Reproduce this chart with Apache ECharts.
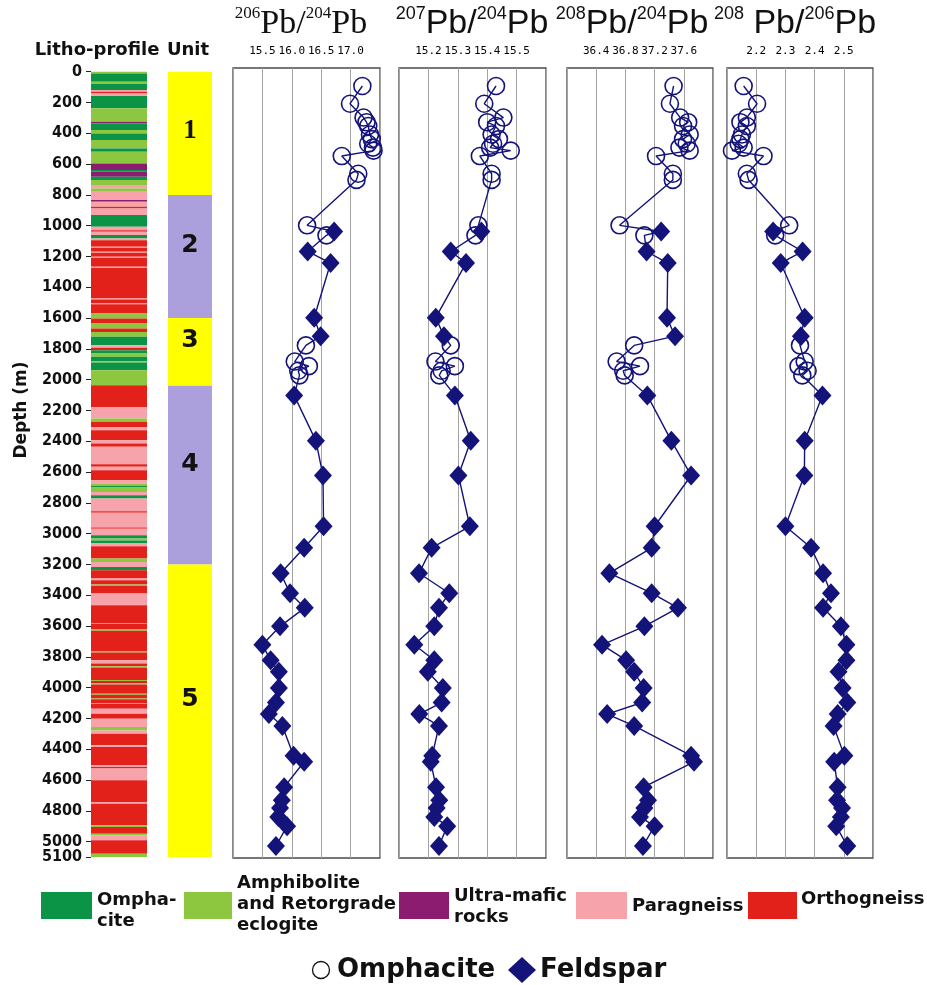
<!DOCTYPE html>
<html><head><meta charset="utf-8">
<script src="https://cdn.jsdelivr.net/npm/echarts@6.0.0/dist/echarts.min.js"></script>
<style>html,body{margin:0;padding:0;background:#fff}#c{width:927px;height:985px}</style>
</head><body><div id="c"></div>
<script>
// ---------------- DATA ----------------
// depth axis tick labels (m)
const depthTicks = [0,200,400,600,800,1000,1200,1400,1600,1800,2000,2200,2400,2600,2800,3000,3200,3400,3600,3800,4000,4200,4400,4600,4800,5000];
const depthBottomTick = [5100];

// lithology: layer top depths (m) and rock code of each layer (last layer ends at 5100 m)
// O = omphacite eclogite, A = amphibolite/retrograde eclogite, U = ultra-mafic, P = paragneiss, R = orthogneiss
const lithoTop = [
  0,11,65,80,119,130,141,158,238,325,
  336,379,401,444,498,520,596,639,650,682,
  704,736,758,780,834,845,877,888,931,1007,
  1029,1040,1061,1083,1094,1137,1143,1170,1176,1202,
  1208,1267,1275,1473,1479,1505,1511,1570,1603,1635,
  1668,1690,1722,1776,1793,1809,1830,1852,1880,1888,
  1939,2036,2177,2253,2274,2307,2328,2393,2415,2436,
  2549,2566,2588,2653,2675,2690,2700,2729,2750,2772,
  2855,2865,2960,2968,3010,3032,3045,3060,3082,3162,
  3184,3216,3238,3292,3303,3330,3338,3389,3465,3580,
  3587,3623,3630,3765,3772,3823,3844,3862,3869,3950,
  3957,3972,3979,4040,4046,4070,4076,4100,4106,4137,
  4169,4202,4256,4278,4299,4375,4386,4505,4516,4526,
  4602,4743,4754,4894,4905,4949,4959,4992,5079];
const lithoRock = [
  'A','O','A','O','P','R','P','O','A','U',
  'O','A','O','A','O','A','U','O','U','O',
  'A','P','A','P','U','P','R','P','O','P',
  'R','P','O','P','R','P','R','P','R','P',
  'R','P','R','P','R','P','R','A','R','A',
  'R','A','O','P','R','O','A','O','A','O',
  'A','R','P','A','R','P','R','P','R','P',
  'R','P','R','P','A','O','A','P','O','P',
  'R','P','R','P','O','A','O','P','R','A',
  'P','O','R','P','R','A','R','P','R','A',
  'R','A','R','A','R','P','R','A','R','A',
  'R','A','R','A','R','A','R','A','R','P',
  'R','P','A','P','R','P','R','P','R','P',
  'R','P','R','A','R','A','P','R','A'];
const lithoBottomDepth = 5100;
const rockNames = ["Ompha-\ncite","Amphibolite\nand Retorgrade\neclogite","Ultra-mafic\nrocks","Paragneiss","Orthogneiss"];
const rockCodes = ["O","A","U","P","R"];

// tectonic units
const unitNames = ["1","2","3","4","5"];
const unitBounds = [0,800,1600,2040,3200,5100];

// samples
const omphDepth = [95,210,300,330,355,410,440,470,495,515,550,665,705,1000,1065,1780,1885,1915,1945,1975];
const feldDepth = [1040,1170,1245,1600,1720,2105,2400,2625,2955,3095,3260,3390,3485,3605,3725,3825,3900,4005,4100,4175,4252,4445,4485,4650,4735,4786,4843,4903,5032];

const pb64Omph = [17.20,16.99,17.22,17.27,17.30,17.33,17.36,17.30,17.38,17.39,16.85,17.13,17.10,16.26,16.59,16.24,16.05,16.29,16.11,16.13];
const pb64Feld = [16.72,16.27,16.66,16.38,16.49,16.04,16.41,16.53,16.54,16.21,15.81,15.97,16.22,15.80,15.50,15.64,15.78,15.78,15.73,15.61,15.84,16.03,16.21,15.87,15.83,15.80,15.77,15.92,15.73];

const pb74Omph = [15.43,15.39,15.455,15.40,15.43,15.415,15.44,15.42,15.41,15.48,15.375,15.415,15.415,15.37,15.36,15.276,15.224,15.29,15.245,15.237];
const pb74Feld = [15.38,15.276,15.328,15.225,15.253,15.29,15.344,15.302,15.341,15.211,15.168,15.271,15.236,15.220,15.152,15.220,15.198,15.249,15.245,15.169,15.236,15.213,15.208,15.226,15.237,15.228,15.220,15.264,15.236];

const pb84Omph = [37.46,37.41,37.55,37.66,37.59,37.68,37.59,37.64,37.54,37.68,37.22,37.45,37.45,36.72,37.06,36.92,36.68,37.00,36.77,36.79];
const pb84Feld = [37.29,37.09,37.38,37.37,37.48,37.10,37.43,37.70,37.20,37.16,36.58,37.16,37.52,37.06,36.48,36.81,36.92,37.05,37.03,36.55,36.92,37.70,37.74,37.05,37.11,37.06,37.00,37.20,37.04];

const pb86Omph = [2.157,2.203,2.168,2.146,2.168,2.151,2.146,2.140,2.157,2.117,2.225,2.168,2.174,2.313,2.265,2.350,2.366,2.345,2.376,2.358];
const pb86Feld = [2.258,2.359,2.284,2.366,2.353,2.427,2.366,2.365,2.300,2.388,2.429,2.456,2.429,2.490,2.509,2.509,2.482,2.496,2.512,2.479,2.465,2.502,2.467,2.479,2.477,2.494,2.490,2.474,2.512];

// axis ranges of the four panels
const panelMin = [15.0, 15.1, 36.0, 2.1];
const panelMax = [17.5, 15.6, 38.0, 2.6];
const panelStep = [0.5, 0.1, 0.4, 0.1];
const panelTitleNums = [["206","204"],["207","204"],["208","204"],["208","206"]];

// ---------------- STYLE / LAYOUT ----------------
const NAVY = '#13137a';
const rockColor = {O:'#0b9446', A:'#8dc63f', U:'#8c1c70', P:'#f7a3ab', R:'#e3211b'};
const unitColor = ['#ffff00','#ab9fdc'];
const panelLeft = [233, 399, 567, 727];
const panelWidth = [147, 147, 146, 146];
const titleX = [301, 472, 632, 795];
const PTOP = 68, PH = 790;

const chart = echarts.init(document.getElementById('c'), null, {renderer:'canvas'});

const lithoData = lithoTop.map((t,i)=>[t, i+1 < lithoTop.length ? lithoTop[i+1] : lithoBottomDepth, lithoRock[i]]);
const unitData = unitNames.map((n,i)=>[unitBounds[i], unitBounds[i+1], i]);

const depthLabelStyle = {
  fontFamily:'"Liberation Sans Narrow","DejaVu Sans Condensed","Liberation Sans",sans-serif',
  fontWeight:'bold', fontSize:16, color:'#111'};

const grids = [
  {left:91, width:56, top:71.7, height:785.3},
  {left:168, width:44, top:71.7, height:785.3}
];
const xAxes = [
  {gridIndex:0, type:'value', min:0, max:1, show:false},
  {gridIndex:1, type:'value', min:0, max:1, show:false}
];
const yAxes = [
  {gridIndex:0, type:'value', inverse:true, min:0, max:lithoBottomDepth, position:'left',
   axisLine:{show:false}, splitLine:{show:false},
   axisTick:{show:true, length:5, customValues:depthTicks.concat(depthBottomTick), lineStyle:{color:'#222', width:1}},
   axisLabel:Object.assign({show:true, margin:9, hideOverlap:false, customValues:depthTicks,
     formatter:(v)=>String(Math.round(v))}, depthLabelStyle)},
  {gridIndex:1, type:'value', inverse:true, min:0, max:lithoBottomDepth, show:false},
  {gridIndex:0, type:'value', inverse:true, min:0, max:lithoBottomDepth, position:'left', offset:0,
   axisLine:{show:false}, splitLine:{show:false}, axisTick:{show:false},
   axisLabel:Object.assign({show:true, margin:9, hideOverlap:false, customValues:depthBottomTick,
     formatter:(v)=>String(Math.round(v))}, depthLabelStyle)}
];
const series = [
  {type:'custom', xAxisIndex:0, yAxisIndex:0, data:lithoData, encode:{y:[0,1]}, clip:false,
   renderItem:(params, api)=>{
     const a = api.coord([0, api.value(0)]);
     const b = api.coord([1, api.value(1)]);
     return {type:'rect', shape:{x:a[0], y:a[1], width:b[0]-a[0], height:b[1]-a[1]},
       style:{fill: rockColor[lithoData[params.dataIndex][2]]}};
   }},
  {type:'custom', xAxisIndex:1, yAxisIndex:1, data:unitData, encode:{y:[0,1]}, clip:false,
   renderItem:(params, api)=>{
     const i = params.dataIndex;
     const a = api.coord([0, api.value(0)]);
     const b = api.coord([1, api.value(1)]);
     const off = i === 0 ? -2 : -11;
     return {type:'group', children:[
       {type:'rect', shape:{x:a[0], y:a[1], width:b[0]-a[0], height:b[1]-a[1]}, style:{fill:unitColor[i%2]}},
       {type:'text', x:(a[0]+b[0])/2, y:(a[1]+b[1])/2 + off,
        style:{text:unitNames[i], align:'center', verticalAlign:'middle',
          fontFamily: i === 0 ? '"Liberation Serif",serif' : '"DejaVu Sans",sans-serif',
          fontWeight:'bold', fontSize: i === 0 ? 27 : 25, fill:'#111'}}
     ]};
   }}
];

const omphVals = [pb64Omph, pb74Omph, pb84Omph, pb86Omph];
const feldVals = [pb64Feld, pb74Feld, pb84Feld, pb86Feld];

for (let p = 0; p < 4; p++) {
  const gi = p + 2;
  const yi = p + 3;
  grids.push({left:panelLeft[p], width:panelWidth[p], top:PTOP, height:PH, show:true,
    borderColor:'#4a4a4a', borderWidth:1.3, backgroundColor:'rgba(0,0,0,0)'});
  xAxes.push({gridIndex:gi, type:'value', position:'top', min:panelMin[p], max:panelMax[p], interval:panelStep[p],
    axisLine:{show:false}, axisTick:{show:false},
    splitLine:{show:true, lineStyle:{color:'#a3a3a3', width:1}},
    axisLabel:{show:true, margin:11, showMinLabel:false, showMaxLabel:false,
      formatter:(v)=>(+v).toFixed(1),
      fontFamily:'"DejaVu Sans Mono",monospace', fontSize:11, color:'#000'}});
  yAxes.push({gridIndex:gi, type:'value', inverse:true, min:-22, max:5110, show:false});
  const om = omphDepth.map((d,i)=>[omphVals[p][i], d]);
  const fe = feldDepth.map((d,i)=>[feldVals[p][i], d]);
  const all = om.concat(fe).sort((a,b)=>a[1]-b[1]);
  series.push({type:'line', xAxisIndex:gi, yAxisIndex:yi, data:all, symbol:'none', z:2,
    lineStyle:{color:NAVY, width:1.4}, silent:true});
  series.push({type:'scatter', name:'Omphacite', xAxisIndex:gi, yAxisIndex:yi, data:om, symbol:'circle', symbolSize:17, z:3,
    itemStyle:{color:'rgba(255,255,255,0)', borderColor:NAVY, borderWidth:1.6, opacity:1}});
  series.push({type:'scatter', name:'Feldspar', xAxisIndex:gi, yAxisIndex:yi, data:fe, symbol:'diamond', symbolSize:[18,20], z:4,
    itemStyle:{color:NAVY, opacity:1}});
}

// --------- static texts ---------
const graphics = [];
for (let p = 0; p < 4; p++) {
  const serif = p === 0;
  const fam = serif ? '"Liberation Serif",serif' : '"Liberation Sans",sans-serif';
  const sep = p === 3 ? ' ' : '';
  graphics.push({type:'text', x:titleX[p], y:23,
    style:{text:'{s|'+panelTitleNums[p][0]+'}{m|'+sep+'Pb/}{s|'+panelTitleNums[p][1]+'}{m|Pb}',
      align:'center', verticalAlign:'middle',
      rich:{
        s:{fontFamily:fam, fontSize:serif?17:18, verticalAlign:'top', lineHeight:36, fill:'#111'},
        m:{fontFamily:fam, fontSize:34, verticalAlign:'bottom', lineHeight:36, fill:'#111'}
      }}});
}
graphics.push({type:'text', x:97, y:50, style:{text:'Litho-profile', align:'center', verticalAlign:'middle',
  fontFamily:'"DejaVu Sans",sans-serif', fontWeight:'bold', fontSize:18, fill:'#111'}});
graphics.push({type:'text', x:188, y:50, style:{text:'Unit', align:'center', verticalAlign:'middle',
  fontFamily:'"DejaVu Sans",sans-serif', fontWeight:'bold', fontSize:18, fill:'#111'}});
graphics.push({type:'text', x:22, y:410, rotation:Math.PI/2, style:{text:'Depth (m)', align:'center', verticalAlign:'middle',
  fontFamily:'"DejaVu Sans",sans-serif', fontWeight:'bold', fontSize:17, fill:'#111'}});

const swX = [41, 184, 399, 576, 748];
const swW = [51, 48, 50, 51, 49];
const txX = [97, 237, 454, 632, 801];
const txY = [911, 904, 907, 906, 899];
for (let i = 0; i < 5; i++) {
  graphics.push({type:'rect', shape:{x:swX[i], y:892, width:swW[i], height:27}, style:{fill:rockColor[rockCodes[i]]}});
  graphics.push({type:'text', x:txX[i], y:txY[i], style:{text:rockNames[i], align:'left', verticalAlign:'middle',
    fontFamily:'"DejaVu Sans",sans-serif', fontWeight:'bold', fontSize:18, lineHeight:21, fill:'#111'}});
}
graphics.push({type:'circle', shape:{cx:321, cy:970, r:8.5}, style:{fill:'#fff', stroke:'#111', lineWidth:1.3}});
graphics.push({type:'text', x:337, y:970, style:{text:'Omphacite', align:'left', verticalAlign:'middle',
  fontFamily:'"DejaVu Sans",sans-serif', fontWeight:'bold', fontSize:26, fill:'#111'}});
graphics.push({type:'polygon', shape:{points:[[522,957],[536,970],[522,983],[508,970]]}, style:{fill:NAVY}});
graphics.push({type:'text', x:540, y:970, style:{text:'Feldspar', align:'left', verticalAlign:'middle',
  fontFamily:'"DejaVu Sans",sans-serif', fontWeight:'bold', fontSize:26, fill:'#111'}});

chart.setOption({
  animation:false,
  backgroundColor:'#ffffff',
  grid:grids.map(g=>Object.assign({outerBoundsMode:'none', containLabel:false}, g)),
  xAxis:xAxes, yAxis:yAxes, series:series, graphic:graphics
});
</script></body></html>
